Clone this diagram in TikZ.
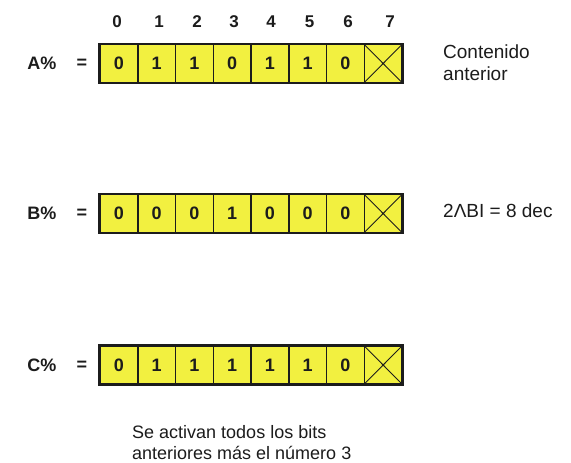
\documentclass[tikz,border=0pt]{standalone}
\usepackage{fontspec}
\setmainfont{Liberation Sans}
\definecolor{cellyellow}{RGB}{242,240,64}
\definecolor{ink}{RGB}{28,28,28}
\begin{document}
\begin{tikzpicture}[x=1pt,y=1pt,
  cell/.style={draw=ink, line width=1.5pt, fill=cellyellow, minimum width=37.75pt,
    minimum height=38pt, inner sep=0pt, font=\fontsize{18}{20}\selectfont\bfseries, text=ink},
  frame/.style={draw=ink, line width=2.3pt},
  cross/.style={draw=ink, line width=0.9pt},
  reglabel/.style={font=\fontsize{18}{20}\selectfont\bfseries, text=ink, inner sep=0pt},
  idx/.style={font=\fontsize{17}{19}\selectfont\bfseries, text=ink, inner sep=0pt},
  note/.style={font=\fontsize{19}{22}\selectfont, text=ink, inner sep=0pt, anchor=base west},
  foot/.style={font=\fontsize{18}{21}\selectfont, text=ink, inner sep=0pt, anchor=base west}
]
\useasboundingbox (0,0) rectangle (571,-463);
\fill[white] (0,0) rectangle (571,-463);

% bit indices
\foreach \x [count=\i from 0] in {117,159,197,234,271,309.5,348,390}
  \node[idx] (n\i) at (\x,-22) {\i};

% row A
\node[reglabel] (la) at (42,-63.5) {A\%};
\node[reglabel] (ea) at (82,-64) {=};
\foreach \v [count=\i from 0] in {0,1,1,0,1,1,0}
  \node[cell] (a\i) at ({118.875+37.75*\i},-63.5) {\v};
\node[cell] (a7) at ({118.875+37.75*7},-63.5) {};
\draw[cross] (a7.north west) -- (a7.south east) (a7.north east) -- (a7.south west);
\draw[frame] (a0.north west) rectangle (a7.south east);

% row B
\node[reglabel] (lb) at (42,-213.5) {B\%};
\node[reglabel] (eb) at (82,-214) {=};
\foreach \v [count=\i from 0] in {0,0,0,1,0,0,0}
  \node[cell] (b\i) at ({118.875+37.75*\i},-213.5) {\v};
\node[cell] (b7) at ({118.875+37.75*7},-213.5) {};
\draw[cross] (b7.north west) -- (b7.south east) (b7.north east) -- (b7.south west);
\draw[frame] (b0.north west) rectangle (b7.south east);

% row C
\node[reglabel] (lc) at (42,-365) {C\%};
\node[reglabel] (ec) at (82,-365.5) {=};
\foreach \v [count=\i from 0] in {0,1,1,1,1,1,0}
  \node[cell] (c\i) at ({118.875+37.75*\i},-365) {\v};
\node[cell] (c7) at ({118.875+37.75*7},-365) {};
\draw[cross] (c7.north west) -- (c7.south east) (c7.north east) -- (c7.south west);
\draw[frame] (c0.north west) rectangle (c7.south east);

% notes
\node[note] (t1) at (443,-58) {Contenido};
\node[note] (t2) at (443,-80) {anterior};
\node[note] (t3) at (443,-217) {2ΛBI = 8 dec};
\node[foot] (f1) at (132,-438) {Se activan todos los bits};
\node[foot] (f2) at (132,-459) {anteriores más el número 3};
\end{tikzpicture}
\end{document}
